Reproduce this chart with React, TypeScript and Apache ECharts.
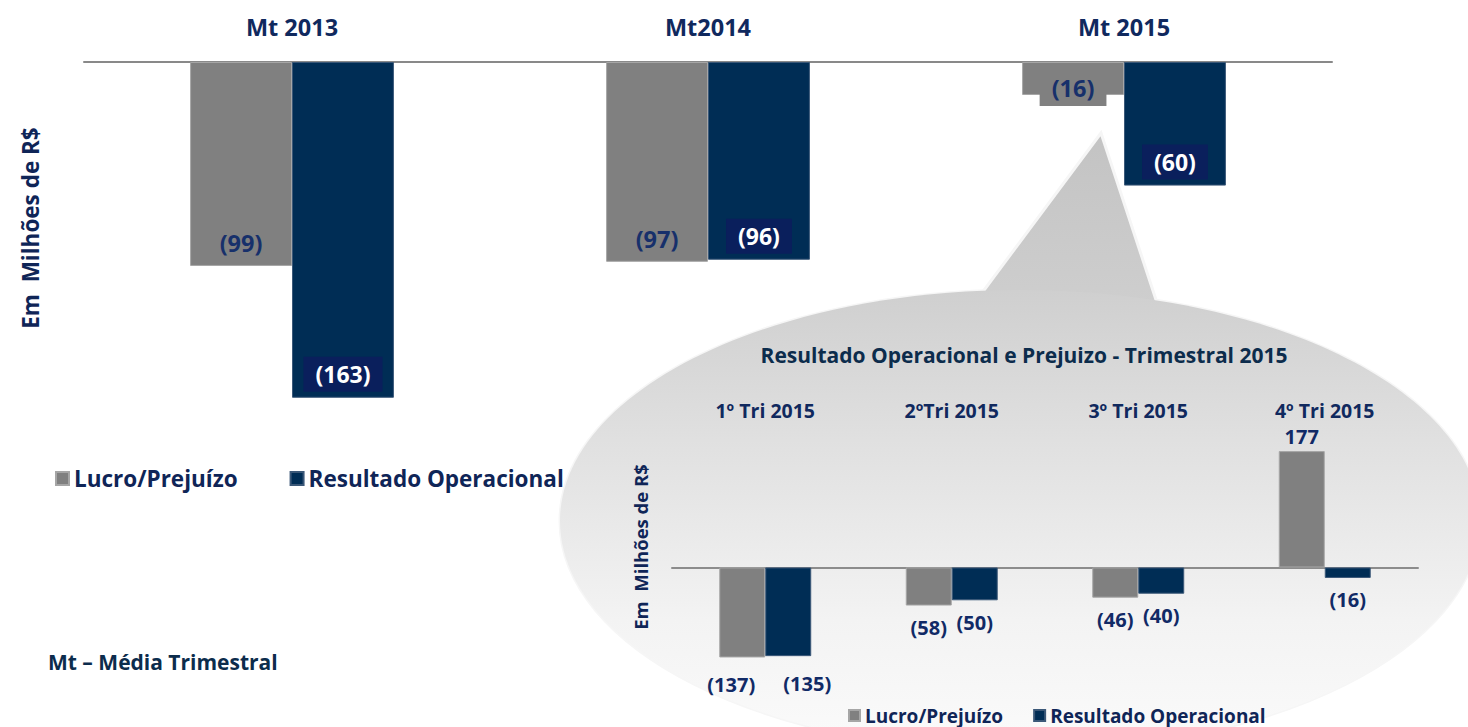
import React, { useEffect, useRef } from "react";
import * as echarts from "echarts";

const mainCategories = ["Mt 2013", "Mt2014", "Mt 2015"];
const mainLucro = [-99, -97, -16];
const mainResultado = [-163, -96, -60];

const triCategories = ["1º Tri 2015", "2ºTri 2015", "3º Tri 2015", "4º Tri 2015"];
const triLucro = [-137, -58, -46, 177];
const triResultado = [-135, -50, -40, -16];

const seriesNames = ["Lucro/Prejuízo", "Resultado Operacional"];

const FONT = "'Open Sans', sans-serif";
const GRAY = "#808080";
const NAVY = "#002d55";
const TEXT_NAVY = "#112a66";

const fmt = (v: number) => (v < 0 ? `(${Math.abs(v)})` : `${v}`);

export default function App() {
  const ref = useRef<HTMLDivElement>(null);
  useEffect(() => {
    if (!ref.current) return;
    const chart = echarts.init(ref.current, null, { renderer: "svg" });

    const mainGrayData = mainLucro.map((v, i) => ({
      value: v,
      label: i === 2 ? { offset: [0, 16] } : {},
    }));
    const triOffsetsGray: Record<number, number[]> = { 0: [-11, 5] };
    const triOffsetsNavy: Record<number, number[]> = { 0: [19, 5] };
    const triGrayData = triLucro.map((v, i) => ({
      value: v,
      label: {
        position: v < 0 ? "bottom" : "top",
        distance: v < 0 ? 12 : 5,
        offset: triOffsetsGray[i] || [0, 0],
      },
    }));
    const triNavyData = triResultado.map((v, i) => ({
      value: v,
      label: {
        position: v < 0 ? "bottom" : "top",
        distance: v < 0 ? 12 : 5,
        offset: triOffsetsNavy[i] || [0, 0],
      },
    }));

    const ellipseShape = { cx: 1020, cy: 521, rx: 460, ry: 231 };
    const ellipseFill = () =>
      new echarts.graphic.LinearGradient(0, 0, 0, 1, [
        { offset: 0, color: "#cfcfcf" },
        { offset: 0.325, color: "#e0e0e0" },
        { offset: 0.714, color: "#f3f3f3" },
        { offset: 1, color: "#fbfbfb" },
      ]);

    const option: any = {
      animation: false,
      backgroundColor: "#ffffff",
      textStyle: { fontFamily: FONT },
      grid: [
        { left: 84, top: 62, width: 1248, height: 412 },
        { left: 672, top: 436, width: 746, height: 230 },
      ],
      xAxis: [
        {
          type: "category",
          gridIndex: 0,
          position: "top",
          data: mainCategories,
          axisLine: { lineStyle: { color: "#898989", width: 2 } },
          axisTick: { inside: true, length: 8, lineStyle: { color: "#898989", width: 2 } },
          axisLabel: { margin: 23, fontSize: 23.5, fontWeight: "bold", color: "#10295e", fontFamily: FONT },
        },
        {
          type: "category",
          gridIndex: 1,
          position: "top",
          data: triCategories,
          axisLine: { show: false, onZero: false },
          axisTick: { show: false },
          axisLabel: { margin: 16, fontSize: 19.5, fontWeight: "bold", color: "#10295e", fontFamily: FONT },
        },
        {
          type: "category",
          gridIndex: 1,
          position: "bottom",
          data: triCategories,
          axisLine: { onZero: true, lineStyle: { color: "#8c8c8c", width: 2 } },
          axisTick: { inside: false, length: 7, lineStyle: { color: "#8c8c8c", width: 2 } },
          axisLabel: { show: false },
        },
      ],
      yAxis: [
        { type: "value", gridIndex: 0, min: -200, max: 0, show: false },
        { type: "value", gridIndex: 1, min: -150, max: 200, show: false },
      ],
      legend: [
        {
          left: 50,
          top: 462,
          icon: "rect",
          itemWidth: 13,
          itemHeight: 13,
          itemGap: 52,
          data: seriesNames,
          textStyle: { fontSize: 22.5, fontWeight: "bold", color: "#0f2557", fontFamily: FONT },
        },
        {
          left: 843,
          top: 701,
          icon: "rect",
          itemWidth: 11,
          itemHeight: 11,
          itemGap: 30,
          data: seriesNames,
          textStyle: { fontSize: 19, fontWeight: "bold", color: "#0f2557", fontFamily: FONT },
        },
      ],
      series: [
        {
          name: seriesNames[0],
          type: "bar",
          xAxisIndex: 0,
          yAxisIndex: 0,
          barGap: "0%",
          barCategoryGap: "51%",
          data: mainGrayData,
          itemStyle: { color: GRAY, borderColor: "#a6a6a6", borderWidth: 1 },
          label: {
            show: true,
            position: "insideBottom",
            distance: 5,
            formatter: (p: any) => fmt(p.value),
            fontSize: 23.5,
            fontWeight: "bold",
            fontFamily: FONT,
            color: "#17306b",
            backgroundColor: GRAY,
            padding: [6, 12],
          },
        },
        {
          name: seriesNames[1],
          type: "bar",
          xAxisIndex: 0,
          yAxisIndex: 0,
          barGap: "0%",
          barCategoryGap: "51%",
          data: mainResultado,
          itemStyle: { color: NAVY, borderColor: "#3b5878", borderWidth: 1 },
          label: {
            show: true,
            position: "insideBottom",
            distance: 6,
            formatter: (p: any) => fmt(p.value),
            fontSize: 23,
            fontWeight: "bold",
            fontFamily: FONT,
            color: "#ffffff",
            backgroundColor: "#0a1f5c",
            padding: [6, 12],
          },
        },
        {
          name: seriesNames[0],
          type: "bar",
          xAxisIndex: 1,
          yAxisIndex: 1,
          barGap: "0%",
          barCategoryGap: "50.7%",
          data: triGrayData,
          itemStyle: { color: GRAY, borderColor: "#a6a6a6", borderWidth: 1 },
          label: {
            show: true,
            formatter: (p: any) => fmt(p.value),
            fontSize: 20,
            fontWeight: "bold",
            fontFamily: FONT,
            color: TEXT_NAVY,
          },
        },
        {
          name: seriesNames[1],
          type: "bar",
          xAxisIndex: 1,
          yAxisIndex: 1,
          barGap: "0%",
          barCategoryGap: "50.7%",
          data: triNavyData,
          itemStyle: { color: NAVY, borderColor: "#3b5878", borderWidth: 1 },
          label: {
            show: true,
            formatter: (p: any) => fmt(p.value),
            fontSize: 20,
            fontWeight: "bold",
            fontFamily: FONT,
            color: TEXT_NAVY,
          },
        },
      ],
      graphic: [
        {
          type: "ellipse",
          z: -10,
          silent: true,
          shape: ellipseShape,
          style: { fill: ellipseFill(), stroke: "#f6f6f6", lineWidth: 3 },
        },
        {
          type: "polygon",
          z: -9,
          silent: true,
          shape: { points: [[1101, 133], [970, 309], [1162, 318]] },
          style: {
            fill: new echarts.graphic.LinearGradient(0, 0, 0, 1, [
              { offset: 0, color: "#c3c3c3" },
              { offset: 1, color: "#cfcfcf" },
            ]),
            stroke: "#f6f6f6",
            lineWidth: 3,
          },
        },
        {
          type: "ellipse",
          z: -8,
          silent: true,
          shape: ellipseShape,
          style: { fill: ellipseFill() },
        },
        {
          type: "text",
          x: 30,
          y: 228,
          rotation: Math.PI / 2,
          style: {
            text: "Em  Milhões de R$",
            font: `bold 22.5px ${FONT}`,
            fill: "#0f2557",
            textAlign: "center",
            textVerticalAlign: "middle",
          },
        },
        {
          type: "text",
          x: 48,
          y: 662,
          style: {
            text: "Mt – Média Trimestral",
            font: `bold 21px ${FONT}`,
            fill: "#0c2c4c",
            textAlign: "left",
            textVerticalAlign: "middle",
          },
        },
        {
          type: "text",
          x: 1024,
          y: 355,
          style: {
            text: "Resultado Operacional e Prejuizo - Trimestral 2015",
            font: `bold 21px ${FONT}`,
            fill: "#0c2c4c",
            textAlign: "center",
            textVerticalAlign: "middle",
          },
        },
        {
          type: "text",
          x: 640,
          y: 547,
          rotation: Math.PI / 2,
          style: {
            text: "Em  Milhões de R$",
            font: `bold 18.5px ${FONT}`,
            fill: "#0f2557",
            textAlign: "center",
            textVerticalAlign: "middle",
          },
        },
      ],
    };

    chart.setOption(option);
    return () => chart.dispose();
  }, []);

  return <div ref={ref} style={{ width: 1468, height: 727, position: "absolute", left: 0, top: 0 }} />;
}
